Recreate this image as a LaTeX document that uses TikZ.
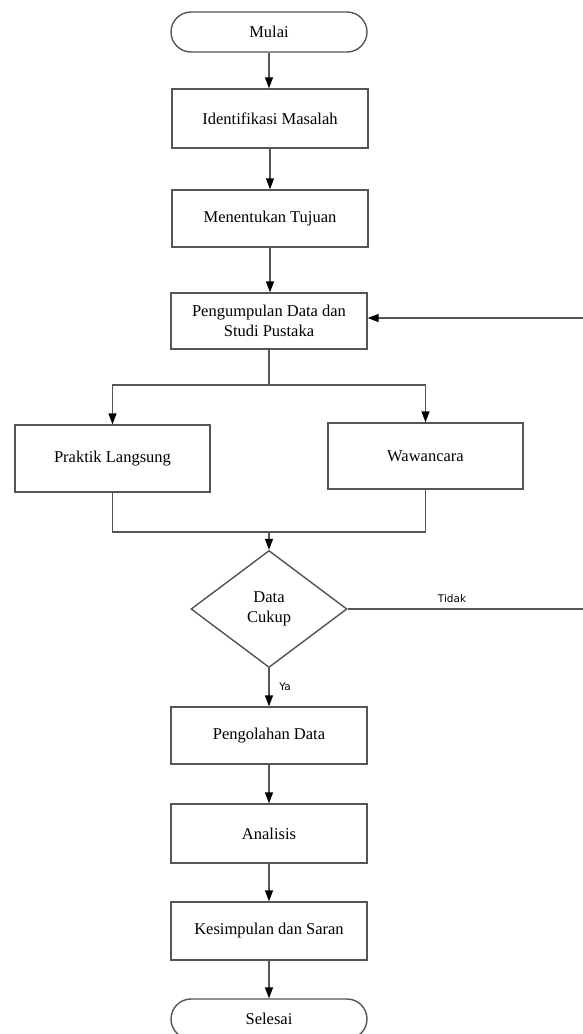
\documentclass[tikz,border=0pt]{standalone}
\usepackage{fontspec}
\setmainfont{Liberation Serif}
\newfontfamily\labelfont{DejaVu Sans}
\usetikzlibrary{arrows.meta,shapes.geometric}
\definecolor{linegray}{HTML}{555555}
\tikzset{
  base/.style={draw=linegray, line width=1.4pt, fill=white, inner sep=2pt,
    font=\fontsize{16.5}{19.5}\selectfont, text=black, align=center},
  procbox/.style={base, rectangle, minimum width=196pt},
  termbox/.style={base, rectangle, rounded corners=20pt, minimum width=196pt, minimum height=40pt},
  decbox/.style={base, diamond, minimum width=156pt, minimum height=117pt, inner sep=0pt},
  conn/.style={draw=linegray, line width=1.4pt},
  arr/.style={conn, -{Triangle[length=11pt,width=8pt,fill=black,color=black]}},
  lbl/.style={font=\labelfont\fontsize{10.5}{12}\selectfont, text=black, inner sep=1pt}
}
\begin{document}
\begin{tikzpicture}[x=1pt,y=-1pt]
\useasboundingbox (0,0) rectangle (582,1034);
\fill[white] (0,0) rectangle (582,1034);

\node[termbox] (mulai) at (269,32) {Mulai};
\node[procbox, minimum height=59pt] (ident) at (270,118.5) {Identifikasi Masalah};
\node[procbox, minimum height=57pt] (tujuan) at (270,218.5) {Menentukan Tujuan};
\node[procbox, minimum height=56pt] (kumpul) at (269,321) {Pengumpulan Data dan\\Studi Pustaka};
\node[procbox, minimum width=195pt, minimum height=67pt] (praktik) at (112.5,458.5) {Praktik Langsung};
\node[procbox, minimum width=195pt, minimum height=66pt] (wawan) at (425.5,456) {Wawancara};
\node[decbox] (dec) at (269,609) {Data\\Cukup};
\node[procbox, minimum height=57pt] (olah) at (269,735.5) {Pengolahan Data};
\node[procbox, minimum height=59pt] (anal) at (269,833.5) {Analisis};
\node[procbox, minimum height=58pt] (simp) at (269,931) {Kesimpulan dan Saran};
\node[termbox] (selesai) at (269,1019) {Selesai};

\coordinate (split) at (269,385);
\coordinate (merge) at (269,532);
\coordinate (rtlow) at (586,609);
\coordinate (rthigh) at (586,318);

\draw[arr] (mulai.south) -- (mulai.south |- ident.north);
\draw[arr] (ident.south -| tujuan.north) -- (tujuan.north);
\draw[arr] (tujuan.south) -- (tujuan.south |- kumpul.north);
\draw[conn] (kumpul.south) -- (split);
\draw[arr] (split) -| (praktik.north);
\draw[arr] (split) -| (wawan.north);
\draw[conn] (praktik.south) |- (merge);
\draw[conn] (wawan.south) |- (merge);
\draw[arr] (merge) -- (dec.north);
\draw[conn] (dec.east) -- (rtlow) -- (rthigh);
\draw[arr] (rthigh) -- (kumpul.east |- rthigh);
\draw[arr] (dec.south) -- (olah.north);
\draw[arr] (olah.south) -- (anal.north);
\draw[arr] (anal.south) -- (simp.north);
\draw[arr] (simp.south) -- (selesai.north);

\node[lbl] (tidak) at (452,599) {Tidak};
\node[lbl] (ya) at (285,687) {Ya};
\end{tikzpicture}
\end{document}
